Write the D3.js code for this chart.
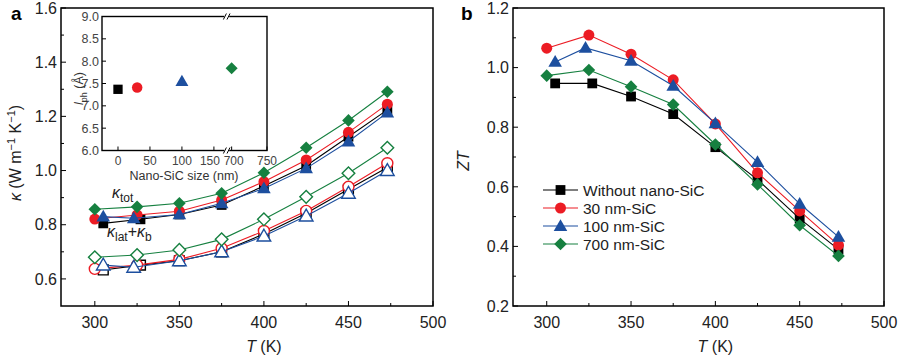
<!DOCTYPE html>
<html>
<head>
<meta charset="utf-8">
<script src="https://cdn.jsdelivr.net/npm/d3@7"></script>
<style>
  body { margin: 0; background: #fff; }
  svg { font-family: "Liberation Sans", Arial, sans-serif; }
</style>
</head>
<body>
<svg id="chart" width="900" height="358"></svg>
<script>
// ---------------- data ----------------
const seriesNames = ["Without nano-SiC", "30 nm-SiC", "100 nm-SiC", "700 nm-SiC"];
const seriesColors = ["#000000", "#ec1c24", "#1d4f9f", "#168040"];
const seriesShapes = ["square", "circle", "triangle", "diamond"];

// temperatures, black + blue start a bit later than red + green
const tempsBlack = [305, 327, 350, 375, 400, 425, 450, 473];
const tempsRed = [300, 325, 350, 375, 400, 425, 450, 473];
const tempsBlue = [305, 323, 350, 375, 400, 425, 450, 473];
const tempsGreen = [300, 325, 350, 375, 400, 425, 450, 473];

// panel a: total kappa (filled)
const kTotBlack = [0.805, 0.820, 0.838, 0.873, 0.943, 1.018, 1.125, 1.224];
const kTotRed = [0.821, 0.836, 0.850, 0.891, 0.959, 1.039, 1.141, 1.245];
const kTotBlue = [0.830, 0.824, 0.838, 0.879, 0.934, 1.008, 1.107, 1.214];
const kTotGreen = [0.857, 0.866, 0.879, 0.916, 0.992, 1.084, 1.185, 1.291];

// panel a: kappa_lat + kappa_b (open)
const kLatBlack = [0.633, 0.651, 0.667, 0.700, 0.766, 0.842, 0.931, 1.011];
const kLatRed = [0.637, 0.651, 0.672, 0.713, 0.777, 0.851, 0.940, 1.027];
const kLatBlue = [0.651, 0.643, 0.667, 0.700, 0.758, 0.832, 0.916, 1.000];
const kLatGreen = [0.680, 0.688, 0.707, 0.746, 0.820, 0.903, 0.990, 1.084];

// panel b: ZT
const ztBlack = [0.947, 0.947, 0.903, 0.844, 0.733, 0.624, 0.493, 0.390];
const ztRed = [1.065, 1.109, 1.045, 0.959, 0.811, 0.647, 0.519, 0.404];
const ztBlue = [1.019, 1.066, 1.023, 0.939, 0.813, 0.683, 0.543, 0.432];
const ztGreen = [0.973, 0.992, 0.936, 0.876, 0.742, 0.608, 0.471, 0.368];

// inset: phonon mean free path vs SiC size
const insetSizes = [0, 30, 100, 700];
const insetLph = [7.37, 7.41, 7.55, 7.84];

// tick labels
const tempTicks = [300, 350, 400, 450, 500];
const kappaTicks = [0.6, 0.8, 1.0, 1.2, 1.4, 1.6];
const ztTicks = [0.2, 0.4, 0.6, 0.8, 1.0, 1.2];
const insetYTicks = [6.0, 6.5, 7.0, 7.5, 8.0, 8.5, 9.0];
const insetXTicksLeft = [0, 50, 100, 150];
const insetXTicksRight = [700, 750];

const temps = [tempsBlack, tempsRed, tempsBlue, tempsGreen];
const kTot = [kTotBlack, kTotRed, kTotBlue, kTotGreen];
const kLat = [kLatBlack, kLatRed, kLatBlue, kLatGreen];
const zt = [ztBlack, ztRed, ztBlue, ztGreen];

const svg = d3.select("#chart");
const textColor = "#222";

// marker path for a given shape, centered at 0,0
function marker(shape) {
    if (shape === "square") return d3.symbol(d3.symbolSquare, 96)();
    if (shape === "circle") return d3.symbol(d3.symbolCircle, 95)();
    if (shape === "triangle") return d3.symbol(d3.symbolTriangle, 80)();
    // diamond = rotated square
    return d3.symbol(d3.symbolSquare, 80)();
}
function drawMarker(g, shape, x, y, color, open, scale = 1) {
    let p = g.append("path")
        .attr("d", marker(shape))
        .attr("transform", `translate(${x},${y}) scale(${scale})` + (shape === "diamond" ? " rotate(45)" : "") + (shape === "triangle" ? " translate(0,1)" : ""));
    if (open) {
        p.attr("fill", "#fff").attr("stroke", color).attr("stroke-width", 1.4 / scale);
    } else {
        p.attr("fill", color);
    }
}

// axes frame with inward ticks
function drawFrame(g, x, y, xMajor, xMinor, yMajor, yMinor, yFmt, fontSize) {
    const [x0, x1] = x.range();
    const [y0, y1] = y.range();
    g.append("rect")
        .attr("x", x0).attr("y", y1)
        .attr("width", x1 - x0).attr("height", y0 - y1)
        .attr("fill", "none").attr("stroke", "#000").attr("stroke-width", 1.5);

    xMajor.forEach(t => g.append("line").attr("x1", x(t)).attr("x2", x(t)).attr("y1", y0).attr("y2", y0 - 5).attr("stroke", "#000"));
    xMinor.forEach(t => g.append("line").attr("x1", x(t)).attr("x2", x(t)).attr("y1", y0).attr("y2", y0 - 3).attr("stroke", "#000"));
    yMajor.forEach(t => g.append("line").attr("x1", x0).attr("x2", x0 + 5).attr("y1", y(t)).attr("y2", y(t)).attr("stroke", "#000"));
    yMinor.forEach(t => g.append("line").attr("x1", x0).attr("x2", x0 + 3).attr("y1", y(t)).attr("y2", y(t)).attr("stroke", "#000"));

    xMajor.forEach(t => g.append("text")
        .attr("x", x(t)).attr("y", y0 + 22)
        .attr("text-anchor", "middle").attr("font-size", fontSize).attr("fill", textColor)
        .text(t));
    yMajor.forEach(t => g.append("text")
        .attr("x", x0 - 4).attr("y", y(t) + fontSize * 0.36)
        .attr("text-anchor", "end").attr("font-size", fontSize).attr("fill", textColor)
        .text(yFmt(t)));
}

function drawSeries(g, x, y, xs, ys, color, shape, open) {
    const pts = xs.map((t, i) => [x(t), y(ys[i])]);
    g.append("path")
        .attr("d", d3.line()(pts))
        .attr("fill", "none").attr("stroke", color).attr("stroke-width", 1.1);
    pts.forEach(p => drawMarker(g, shape, p[0], p[1], color, open));
}

const fmt1 = d3.format(".1f");

//------------------------
// panel a
const xA = d3.scaleLinear().domain([280, 500]).range([61, 433]);
const yA = d3.scaleLinear().domain([0.5, 1.6]).range([306, 8]);
const gA = svg.append("g");

drawFrame(gA, xA, yA, tempTicks, [325, 375, 425, 475],
    kappaTicks, [0.7, 0.9, 1.1, 1.3, 1.5], fmt1, 16);

// lines + markers, open ones first
for (let i = 0; i < 4; i++) drawSeries(gA, xA, yA, temps[i], kLat[i], seriesColors[i], seriesShapes[i], true);
for (let i = 0; i < 4; i++) drawSeries(gA, xA, yA, temps[i], kTot[i], seriesColors[i], seriesShapes[i], false);

// axis titles
gA.append("text")
    .attr("x", xA(400)).attr("y", 352)
    .attr("text-anchor", "middle").attr("font-size", 16).attr("fill", textColor)
    .html('<tspan font-style="italic">T</tspan> (K)');

gA.append("text")
    .attr("transform", `translate(21,${(yA(0.5) + yA(1.6)) / 2 - 4}) rotate(-90)`)
    .attr("text-anchor", "middle").attr("font-size", 16).attr("fill", textColor)
    .html('<tspan font-style="italic">κ</tspan> (W m<tspan dy="-6" font-size="11">−1</tspan><tspan dy="6"> K</tspan><tspan dy="-6" font-size="11">−1</tspan><tspan dy="6">)</tspan>');

// kappa annotations
gA.append("text")
    .attr("x", 112).attr("y", 198)
    .attr("font-size", 16).attr("fill", textColor)
    .html('<tspan font-style="italic">κ</tspan><tspan dy="4" font-size="12">tot</tspan>');
gA.append("text")
    .attr("x", 107).attr("y", 237)
    .attr("font-size", 16).attr("fill", textColor)
    .html('<tspan font-style="italic">κ</tspan><tspan dy="4" font-size="12">lat</tspan><tspan dy="-4">+</tspan><tspan font-style="italic">κ</tspan><tspan dy="4" font-size="12">b</tspan>');

gA.append("text")
    .attr("x", 11).attr("y", 20)
    .attr("font-size", 19).attr("font-weight", "bold").attr("fill", "#000")
    .text("a");

//------------------------
// inset with broken x axis
const insetLeft = d3.scaleLinear().domain([-25, 170]).range([102, 226.7]);
const insetRight = d3.scaleLinear().domain([693, 750]).range([226.7, 267]);
const insetX = v => v < 400 ? insetLeft(v) : insetRight(v);
const insetY = d3.scaleLinear().domain([6, 9]).range([150.5, 16.5]);
const gI = svg.append("g");

gI.append("rect")
    .attr("x", 102).attr("y", 16.5).attr("width", 165).attr("height", 134)
    .attr("fill", "#fff").attr("stroke", "#000").attr("stroke-width", 1.4);

insetYTicks.forEach(t => {
    gI.append("line").attr("x1", 102).attr("x2", 106).attr("y1", insetY(t)).attr("y2", insetY(t)).attr("stroke", "#000");
    gI.append("text")
        .attr("x", 99).attr("y", insetY(t) + 4.5)
        .attr("text-anchor", "end").attr("font-size", 12.5).attr("fill", "#444")
        .text(fmt1(t));
});
// label nudges so 150 and 700 don't touch at the break
const insetLabelShift = { 150: -4, 700: 2 };
insetXTicksLeft.concat(insetXTicksRight).forEach(t => {
    gI.append("line").attr("x1", insetX(t)).attr("x2", insetX(t)).attr("y1", 150.5).attr("y2", 146.5).attr("stroke", "#000");
    gI.append("text")
        .attr("x", insetX(t) + (insetLabelShift[t] || 0)).attr("y", 164.5)
        .attr("text-anchor", "middle").attr("font-size", 12).attr("fill", "#444")
        .text(t);
});

// break marks "//" on top and bottom
[16.5, 150.5].forEach(yy => {
    gI.append("rect").attr("x", 224.2).attr("y", yy - 2).attr("width", 5).attr("height", 4).attr("fill", "#fff");
    [-1.8, 1.8].forEach(dx => {
        gI.append("line")
            .attr("x1", 226.7 + dx - 1.5).attr("x2", 226.7 + dx + 1.5)
            .attr("y1", yy + 3).attr("y2", yy - 3)
            .attr("stroke", "#000").attr("stroke-width", 1);
    });
});

insetSizes.forEach((s, i) => drawMarker(gI, seriesShapes[i], insetX(s), insetY(insetLph[i]), seriesColors[i], false, 0.95));

gI.append("text")
    .attr("x", 184).attr("y", 180)
    .attr("text-anchor", "middle").attr("font-size", 12.5).attr("fill", "#333")
    .text("Nano-SiC size (nm)");
gI.append("text")
    .attr("transform", `translate(83,${insetY(7.5) + 5}) rotate(-90)`)
    .attr("text-anchor", "middle").attr("font-size", 12.5).attr("fill", "#333")
    .html('<tspan font-style="italic">l</tspan><tspan dy="4" font-size="9">ph</tspan><tspan dy="-4"> (Å)</tspan>');

//------------------------
// panel b
const xB = d3.scaleLinear().domain([280, 500]).range([513, 884]);
const yB = d3.scaleLinear().domain([0.2, 1.2]).range([306, 8]);
const gB = svg.append("g");

drawFrame(gB, xB, yB, tempTicks, [325, 375, 425, 475],
    ztTicks, [0.3, 0.5, 0.7, 0.9, 1.1], fmt1, 16);

for (let i = 0; i < 4; i++) drawSeries(gB, xB, yB, temps[i], zt[i], seriesColors[i], seriesShapes[i], false);

gB.append("text")
    .attr("x", xB(400)).attr("y", 352)
    .attr("text-anchor", "middle").attr("font-size", 16).attr("fill", textColor)
    .html('<tspan font-style="italic">T</tspan> (K)');
gB.append("text")
    .attr("transform", `translate(469,${(yB(0.2) + yB(1.2)) / 2 + 4}) rotate(-90)`)
    .attr("text-anchor", "middle").attr("font-size", 16).attr("font-style", "italic").attr("fill", textColor)
    .text("ZT");
gB.append("text")
    .attr("x", 461).attr("y", 20)
    .attr("font-size", 19).attr("font-weight", "bold").attr("fill", "#000")
    .text("b");

// legend
seriesNames.forEach((name, i) => {
    const ly = 190 + i * 18;
    gB.append("line").attr("x1", 543).attr("x2", 578).attr("y1", ly).attr("y2", ly)
        .attr("stroke", seriesColors[i]).attr("stroke-width", 1.1);
    drawMarker(gB, seriesShapes[i], 560.5, ly, seriesColors[i], false);
    gB.append("text")
        .attr("x", 583).attr("y", ly + 5.5)
        .attr("font-size", 15.5).attr("fill", textColor)
        .text(name);
});
</script>
</body>
</html>
